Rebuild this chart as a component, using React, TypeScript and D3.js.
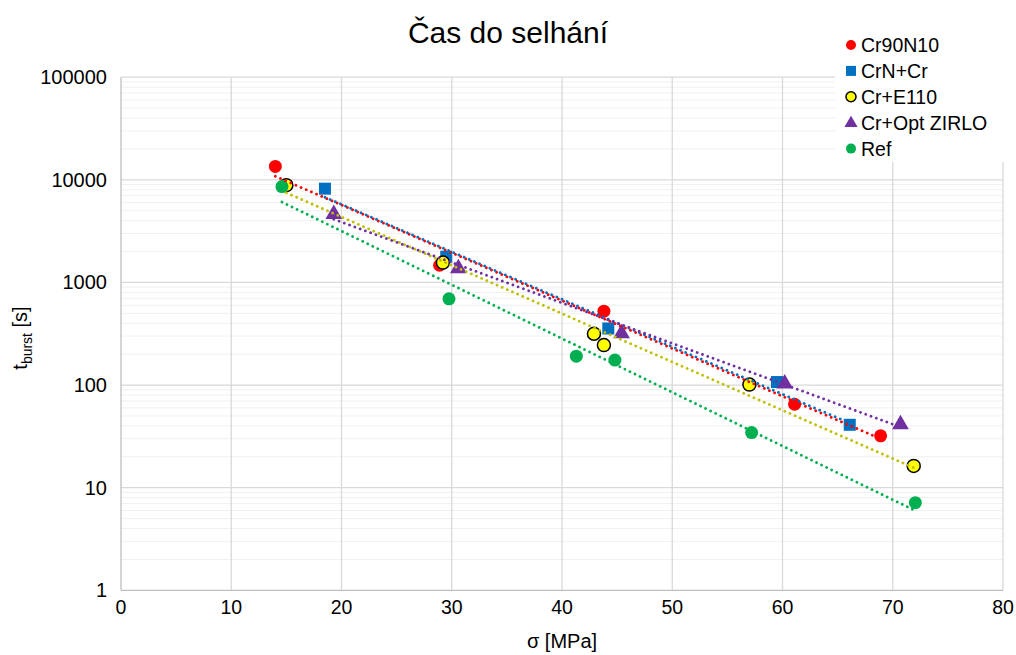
import React from "react";
import * as d3 from "d3";

const seriesNames = ["Cr90N10", "CrN+Cr", "Cr+E110", "Cr+Opt ZIRLO", "Ref"];

const cr90X = [14.0, 28.9, 43.8, 61.1, 68.9];
const cr90Y = [13500, 1470, 525, 65, 32];

const crnX = [18.5, 29.5, 44.2, 59.5, 66.1];
const crnY = [8200, 1780, 356, 107, 41];

const e110X = [15.0, 29.2, 42.9, 43.8, 57.0, 71.9];
const e110Y = [8870, 1560, 316, 245, 101, 16.3];

const zirloX = [19.3, 30.6, 45.4, 60.2, 70.7];
const zirloY = [4700, 1390, 324, 105, 42];

const refX = [14.6, 29.75, 41.3, 44.8, 57.2, 72.05];
const refY = [8600, 693, 191, 175, 34.4, 7.15];

const xTicks = [0, 10, 20, 30, 40, 50, 60, 70, 80];
const yTicks = [1, 10, 100, 1000, 10000, 100000];

const W = 1016;
const H = 655;
const M = { left: 121, right: 1003, top: 77.2, bottom: 590.3 };

const FONT = "'Liberation Sans', Arial, sans-serif";

type Shape = "circle" | "square" | "triangle";
interface Series {
  name: string;
  xs: number[];
  ys: number[];
  fill: string;
  stroke?: string;
  shape: Shape;
  trend: string;
}

const series: Series[] = [
  { name: seriesNames[0], xs: cr90X, ys: cr90Y, fill: "#FF0000", shape: "circle", trend: "#FF0000" },
  { name: seriesNames[1], xs: crnX, ys: crnY, fill: "#0070C0", shape: "square", trend: "#0070C0" },
  { name: seriesNames[2], xs: e110X, ys: e110Y, fill: "#FFFF00", stroke: "#000000", shape: "circle", trend: "#BFBF00" },
  { name: seriesNames[3], xs: zirloX, ys: zirloY, fill: "#7030A0", shape: "triangle", trend: "#7030A0" },
  { name: seriesNames[4], xs: refX, ys: refY, fill: "#00B050", shape: "circle", trend: "#00B050" },
];

function expFit(xs: number[], ys: number[]) {
  const ly = ys.map((v) => Math.log(v));
  const mx = d3.mean(xs)!;
  const my = d3.mean(ly)!;
  let sxy = 0, sxx = 0;
  xs.forEach((x, i) => {
    sxy += (x - mx) * (ly[i] - my);
    sxx += (x - mx) * (x - mx);
  });
  const b = sxy / sxx;
  const a = my - b * mx;
  return (x: number) => Math.exp(a + b * x);
}

function Marker({ shape, x, y, size, fill, stroke }: { shape: Shape; x: number; y: number; size: number; fill: string; stroke?: string }) {
  if (shape === "circle") {
    return <circle cx={x} cy={y} r={size / 2} fill={fill} stroke={stroke || "none"} strokeWidth={stroke ? 1.5 : 0} />;
  }
  if (shape === "square") {
    return <rect x={x - size / 2} y={y - size / 2} width={size} height={size} fill={fill} />;
  }
  const sym = d3.symbol(d3.symbolTriangle, size * size * 0.62)();
  return <path d={sym!} transform={`translate(${x},${y + size * 0.05})`} fill={fill} />;
}

export default function App() {
  const x = d3.scaleLinear().domain([0, 80]).range([M.left, M.right]);
  const y = d3.scaleLog().domain([1, 100000]).range([M.bottom, M.top]);

  const minor: number[] = [];
  for (let d = 1; d < 100000; d *= 10) {
    for (let k = 2; k <= 9; k++) minor.push(d * k);
  }

  const line = d3
    .line<[number, number]>()
    .x((d) => x(d[0]))
    .y((d) => y(d[1]));

  return (
    <svg width={W} height={H} style={{ position: "absolute", left: 0, top: 0, background: "#fff" }} fontFamily={FONT}>
      <rect x={0} y={0} width={W} height={H} fill="#fff" />
      {minor.map((v) => (
        <line key={"m" + v} x1={M.left} x2={M.right} y1={y(v)} y2={y(v)} stroke="#f0f0f0" strokeWidth={1} />
      ))}
      {yTicks.slice(1).map((v) => (
        <line key={"h" + v} x1={M.left} x2={M.right} y1={y(v)} y2={y(v)} stroke="#d9d9d9" strokeWidth={1.3} />
      ))}
      {xTicks.slice(1).map((v) => (
        <line key={"v" + v} x1={x(v)} x2={x(v)} y1={M.top} y2={M.bottom} stroke="#d9d9d9" strokeWidth={1.3} />
      ))}
      <line x1={M.left} x2={M.left} y1={M.top} y2={M.bottom} stroke="#bfbfbf" strokeWidth={1.3} />
      <line x1={M.left} x2={M.right} y1={M.bottom} y2={M.bottom} stroke="#bfbfbf" strokeWidth={1.3} />

      {yTicks.map((v) => (
        <text key={"yt" + v} x={107} y={y(v) + 7} textAnchor="end" fontSize={20} fill="#000">
          {v}
        </text>
      ))}
      {xTicks.map((v) => (
        <text key={"xt" + v} x={x(v)} y={614} textAnchor="middle" fontSize={19.5} fill="#000">
          {v}
        </text>
      ))}

      <text x={(M.left + M.right) / 2} y={648} textAnchor="middle" fontSize={20} fill="#000">
        σ [MPa]
      </text>
      <text transform={`translate(27,338) rotate(-90)`} textAnchor="middle" fontSize={20} fill="#000">
        t<tspan fontSize={14} dy={5}>burst</tspan>
        <tspan dy={-5}> [s]</tspan>
      </text>

      <text x={508} y={43} textAnchor="middle" fontSize={30} fill="#000">
        Čas do selhání
      </text>

      {series.map((s) => (
        <g key={"s" + s.name}>
          {s.xs.map((xv, i) => (
            <Marker key={i} shape={s.shape} x={x(xv)} y={y(s.ys[i])} size={s.shape === "triangle" ? 14 : s.shape === "square" ? 12 : 13} fill={s.fill} stroke={s.stroke} />
          ))}
        </g>
      ))}

      {series.map((s) => {
        const f = expFit(s.xs, s.ys);
        const [x0, x1] = d3.extent(s.xs) as [number, number];
        const pts: [number, number][] = [
          [x0, f(x0)],
          [x1, f(x1)],
        ];
        return (
          <path
            key={"t" + s.name}
            d={line(pts)!}
            fill="none"
            stroke={s.trend}
            strokeWidth={2.8}
            strokeDasharray="0.01 5.6"
            strokeLinecap="round"
          />
        );
      })}

      <rect x={835} y={28} width={181} height={134} fill="#fff" />
      {series.map((s, i) => {
        const cy = 45 + i * 25.9;
        return (
          <g key={"l" + s.name}>
            <Marker shape={s.shape} x={851} y={cy} size={s.shape === "triangle" ? 11 : 10} fill={s.fill} stroke={s.stroke} />
            <text x={861} y={cy + 7} fontSize={19.5} fill="#000">
              {s.name}
            </text>
          </g>
        );
      })}
    </svg>
  );
}
